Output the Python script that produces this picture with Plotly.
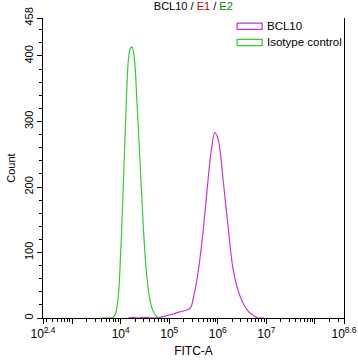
import math
import plotly.graph_objects as go

# ---- data (log10 of FITC-A intensity, counts) ----
iso_logx = [3.60, 3.75, 3.85, 3.90, 3.95, 4.00, 4.02, 4.07, 4.12, 4.16, 4.20, 4.23, 4.26, 4.30,
            4.33, 4.40, 4.47, 4.53, 4.59, 4.65, 4.71, 4.77, 4.85]
iso_count = [0, 0, 1, 8, 32, 100, 134, 236, 338, 395, 412, 414, 408, 380,
             338, 236, 134, 70, 33, 14, 5, 0, 0]

bcl_logx = [4.15, 4.25, 4.35, 4.50, 4.65, 4.81, 4.92, 5.02, 5.20, 5.43, 5.50, 5.57, 5.64, 5.70,
            5.80, 5.87, 5.94, 6.01, 6.11, 6.22, 6.32, 6.46, 6.63, 6.75, 6.83, 6.95]
bcl_count = [0, 1, 0, 1, 0, 1, 3, 5, 9, 15, 32, 58, 95, 134,
             211, 258, 283, 272, 211, 134, 73, 33, 10, 3, 0, 0]

series_names = ["BCL10", "Isotype control"]
series_colors = ["#cc33cc", "#33cc33"]

x_tick_exp = [2.4, 3, 4, 5, 6, 7, 8, 8.6]
x_tick_text = ["10<sup>2.4</sup>", "", "10<sup>4</sup>", "10<sup>5</sup>", "10<sup>6</sup>",
               "10<sup>7</sup>", "", "10<sup>8.6</sup>"]
y_ticks = [0, 100, 200, 300, 400, 458]
x_range = [2.4, 8.6]
y_range = [0, 458]

FONT = "Liberation Sans, Arial, sans-serif"

fig = go.Figure()
fig.add_trace(go.Scatter(x=[10 ** v for v in bcl_logx], y=bcl_count, mode="lines",
                         line=dict(color=series_colors[0], width=1.2, shape="spline"),
                         name=series_names[0], showlegend=False))
fig.add_trace(go.Scatter(x=[10 ** v for v in iso_logx], y=iso_count, mode="lines",
                         line=dict(color=series_colors[1], width=1.2, shape="spline"),
                         name=series_names[1], showlegend=False))

minor_vals = [k * 10 ** n for n in range(2, 9) for k in range(2, 10)
              if x_range[0] < (n + math.log10(k)) < x_range[1]]

fig.update_xaxes(type="log", range=x_range, tickmode="array", automargin=False,
                 tickvals=[10 ** v for v in x_tick_exp], ticktext=x_tick_text,
                 ticks="outside", ticklen=5, tickcolor="black", showline=True,
                 linecolor="black", linewidth=1, showgrid=False, zeroline=False,
                 minor=dict(tickmode="array", tickvals=minor_vals, ticks="outside",
                            ticklen=3, tickcolor="black", showgrid=False),
                 tickfont=dict(family=FONT, size=12, color="black"),
                 title=dict(text="FITC-A", font=dict(family=FONT, size=12, color="black"),
                            standoff=6))
fig.update_yaxes(range=y_range, tickmode="array", tickvals=y_ticks, automargin=False,
                 ticktext=[str(v) for v in y_ticks], tickangle=-90,
                 ticks="outside", ticklen=5, tickcolor="black", showline=True,
                 linecolor="black", linewidth=1, mirror=True, showgrid=False, zeroline=False,
                 minor=dict(dtick=20, ticks="outside", ticklen=3, tickcolor="black",
                            showgrid=False),
                 tickfont=dict(family=FONT, size=11, color="black"),
                 title=dict(text="Count", font=dict(family=FONT, size=11, color="black"),
                            standoff=4))

# legend (outlined boxes like the original)
for i, (nm, col) in enumerate(zip(series_names, series_colors)):
    y0 = 0.983 - i * 0.054
    fig.add_shape(type="rect", xref="paper", yref="paper", x0=0.645, x1=0.728,
                  y0=y0 - 0.021, y1=y0, line=dict(color=col, width=1.2), fillcolor="white")
    fig.add_annotation(xref="paper", yref="paper", x=0.736, y=y0 - 0.0105, text=nm,
                       showarrow=False, xanchor="left", yanchor="middle",
                       font=dict(family=FONT, size=11.5, color="black"))

fig.update_layout(
    width=358, height=361,
    margin=dict(l=43, r=14, t=18, b=43),
    paper_bgcolor="white", plot_bgcolor="white",
    title=dict(text="BCL10 / <span style='color:#cc0000'>E1</span> / "
                    "<span style='color:#008800'>E2</span>",
               x=0.54, xanchor="center", y=0.995, yanchor="top",
               font=dict(family=FONT, size=11, color="black")),
    showlegend=False,
)

fig.write_html("out.html", config={"displayModeBar": False},
               post_script="document.body.style.margin='0';")
